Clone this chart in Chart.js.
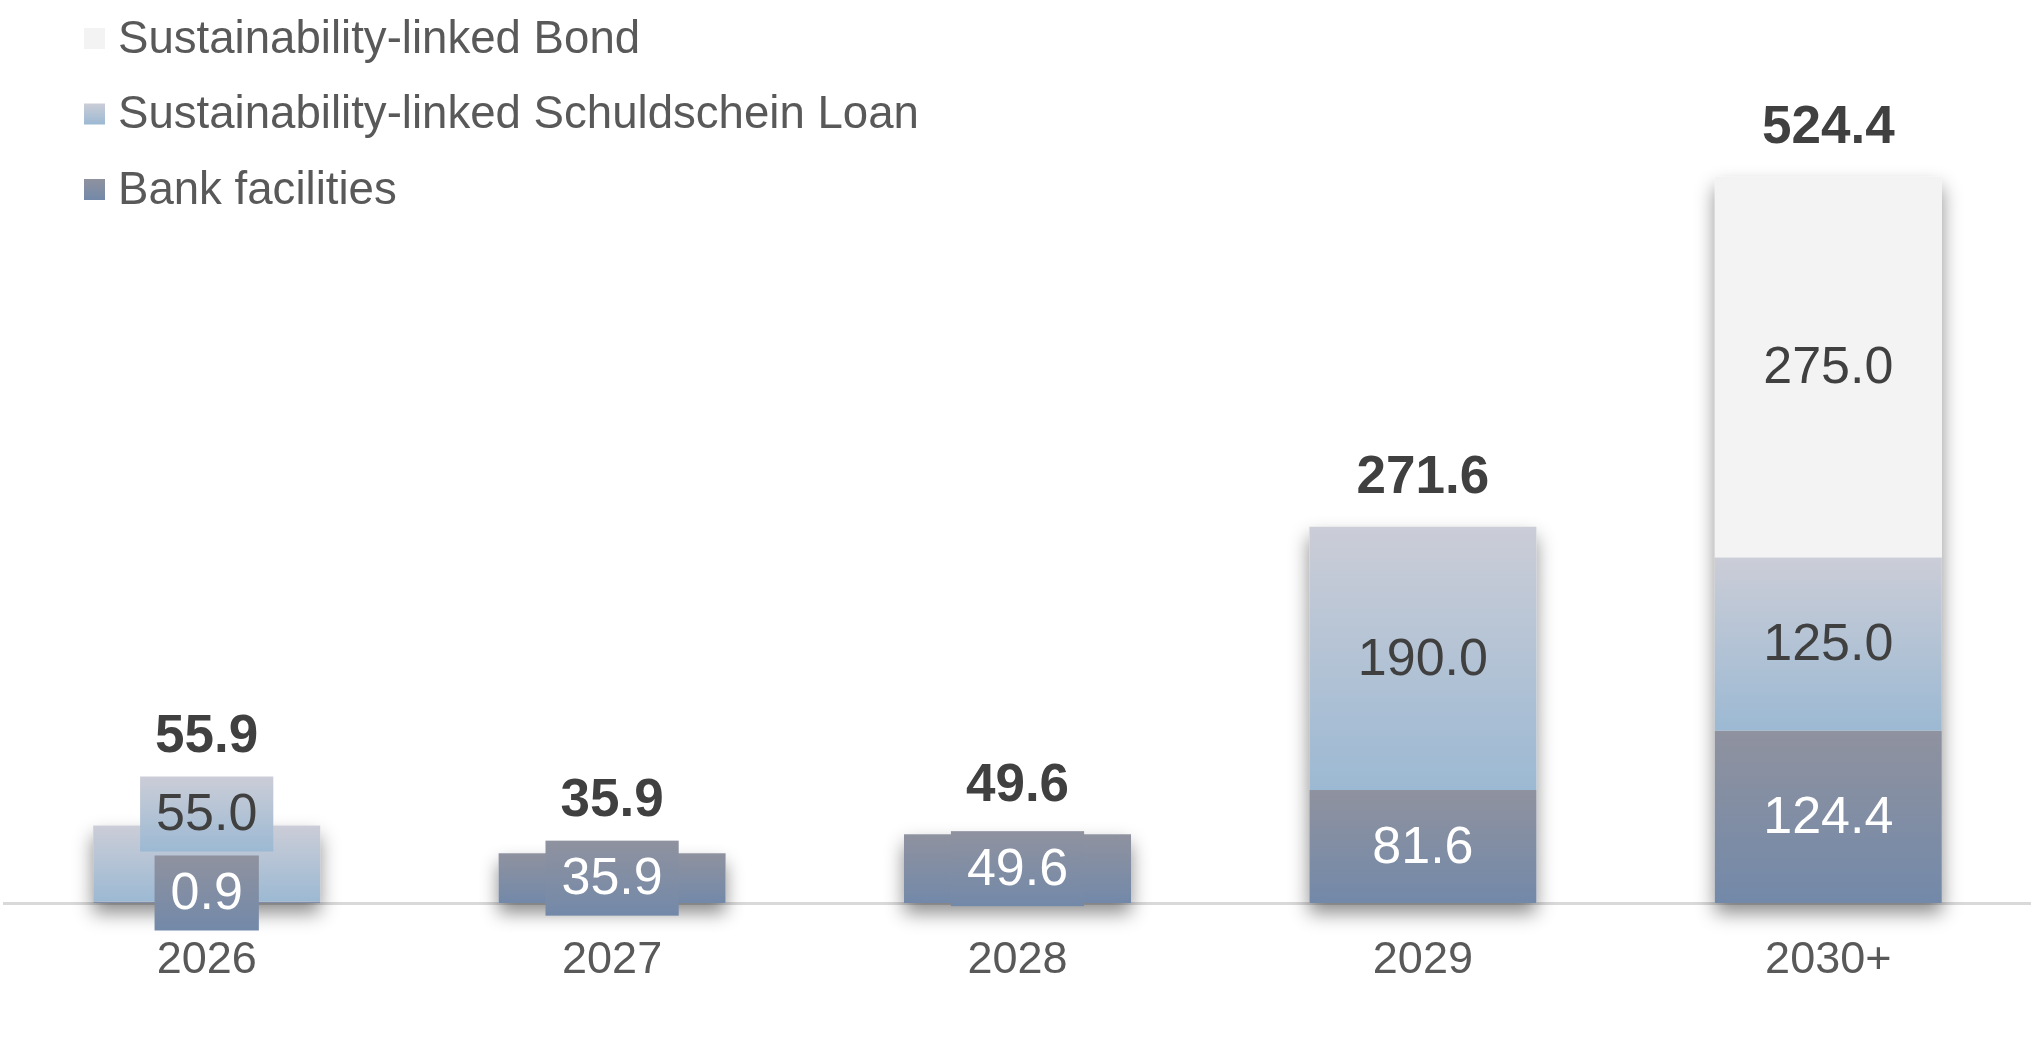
<!DOCTYPE html>
<html>
<head>
<meta charset="utf-8">
<script src="https://cdn.jsdelivr.net/npm/chart.js@4.4.1/dist/chart.umd.min.js"></script>
<style>
  html, body { margin: 0; padding: 0; background: #ffffff; }
  #wrap { width: 2031px; height: 1053px; position: relative; }
</style>
</head>
<body>
<div id="wrap"><canvas id="maturityChart"></canvas></div>
<script>
// ---- data (EUR m) ----
const categories = ["2026", "2027", "2028", "2029", "2030+"];
const bankFacilities = [0.9, 35.9, 49.6, 81.6, 124.4];
const schuldscheinLoan = [55.0, null, null, 190.0, 125.0];
const linkedBond = [null, null, null, null, 275.0];
const totals = [55.9, 35.9, 49.6, 271.6, 524.4];
const seriesNames = [
    "Bank facilities",
    "Sustainability-linked Schuldschein Loan",
    "Sustainability-linked Bond"
];

const FONT = '"Liberation Sans", Arial, sans-serif';
const BANK_STOPS = ["#8f929f", "#7389a9"];
const SSD_STOPS = ["#cbcdd7", "#9cb9d3"];
const BOND_STOPS = ["#f3f3f3", "#f3f3f3"];
const LABEL_BOX_H = 75;
const LABEL_GAP = 79;

function gradient(ctx, top, bottom, stops) {
    const g = ctx.createLinearGradient(0, top, 0, bottom);
    g.addColorStop(0, stops[0]);
    g.addColorStop(1, stops[1]);
    return g;
}

// fill every stacked segment with its own top->bottom gradient
function segmentFill(stops) {
    return (c) => {
        const chart = c.chart;
        if (!chart.chartArea || c.type !== "data") return stops[1];
        const v = c.raw;
        if (v == null) return stops[1];
        let below = 0;
        for (let d = 0; d < c.datasetIndex; d++) {
            below += chart.data.datasets[d].data[c.dataIndex] || 0;
        }
        const y = chart.scales.y;
        return gradient(chart.ctx, y.getPixelForValue(below + v), y.getPixelForValue(below), stops);
    };
}

/* ===================== SHADOW UNDER EACH STACK ===================== */
const barShadow = {
    id: "barShadow",
    beforeDatasetsDraw(chart) {
        const ctx = chart.ctx;
        const yScale = chart.scales.y;
        const meta = chart.getDatasetMeta(0);
        ctx.save();
        ctx.shadowColor = "rgba(0,0,0,0.45)";
        ctx.shadowBlur = 18;
        ctx.shadowOffsetY = 10;
        ctx.fillStyle = "#ffffff";
        meta.data.forEach((el, i) => {
            const p = el.getProps(["x", "width", "base"], true);
            const top = yScale.getPixelForValue(totals[i]);
            ctx.fillRect(p.x - p.width / 2, top, p.width, p.base - top);
        });
        ctx.restore();
    }
};

/* ===================== SEGMENT + TOTAL LABELS ===================== */
const valueLabels = {
    id: "valueLabels",
    afterDatasetsDraw(chart) {
        const ctx = chart.ctx;
        const yScale = chart.scales.y;
        ctx.save();
        ctx.textAlign = "center";
        ctx.textBaseline = "middle";
        categories.forEach((cat, i) => {
            let lastY = Infinity;
            let x = 0;
            chart.data.datasets.forEach((ds, d) => {
                const v = ds.data[i];
                if (v == null) return;
                const el = chart.getDatasetMeta(d).data[i];
                const p = el.getProps(["x", "y", "base"], true);
                x = p.x;
                const center = (p.y + p.base) / 2;
                // labels never sit lower than just above the base line, and never overlap
                const y = Math.min(center, p.base - 10, lastY - LABEL_GAP);
                lastY = y;
                const text = v.toFixed(1);
                ctx.font = "52px " + FONT;
                const w = ctx.measureText(text).width + 32;
                if (y !== center || (p.base - p.y) < LABEL_BOX_H) {
                    ctx.fillStyle = gradient(ctx, y - LABEL_BOX_H / 2, y + LABEL_BOX_H / 2, ds.stops);
                    ctx.fillRect(x - w / 2, y - LABEL_BOX_H / 2, w, LABEL_BOX_H);
                }
                ctx.fillStyle = ds.labelColor;
                ctx.fillText(text, x, y + 2);
            });
            const top = yScale.getPixelForValue(totals[i]);
            const ty = Math.min(top - 50, lastY - LABEL_GAP);
            ctx.font = "bold 53px " + FONT;
            ctx.fillStyle = "#404040";
            ctx.fillText(totals[i].toFixed(1), x, ty + 2);
        });
        ctx.restore();
    }
};

/* ===================== LEGEND (top left, one per line) ===================== */
const sideLegend = {
    id: "sideLegend",
    afterDraw(chart) {
        const ctx = chart.ctx;
        const sets = chart.data.datasets.slice().reverse();
        ctx.save();
        ctx.font = "45.6px " + FONT;
        ctx.textBaseline = "middle";
        ctx.textAlign = "left";
        sets.forEach((ds, k) => {
            const cy = 38 + k * 75.5;
            ctx.fillStyle = gradient(ctx, cy - 10, cy + 11, ds.stops);
            ctx.fillRect(84, cy - 10, 21, 21);
            ctx.fillStyle = "#595959";
            ctx.fillText(ds.label, 118, cy + 2);
        });
        ctx.restore();
    }
};

const canvas = document.getElementById("maturityChart");

new Chart(canvas, {
    type: "bar",
    data: {
        labels: categories,
        datasets: [
            {
                label: seriesNames[0],
                data: bankFacilities,
                backgroundColor: segmentFill(BANK_STOPS),
                stops: BANK_STOPS,
                labelColor: "#ffffff"
            },
            {
                label: seriesNames[1],
                data: schuldscheinLoan,
                backgroundColor: segmentFill(SSD_STOPS),
                stops: SSD_STOPS,
                labelColor: "#404040"
            },
            {
                label: seriesNames[2],
                data: linkedBond,
                backgroundColor: segmentFill(BOND_STOPS),
                stops: BOND_STOPS,
                labelColor: "#404040"
            }
        ]
    },
    options: {
        responsive: true,
        maintainAspectRatio: false,
        animation: false,
        datasets: {
            bar: {
                barPercentage: 0.8,
                categoryPercentage: 0.7,
                borderWidth: 0
            }
        },
        layout: {
            padding: { top: 72, left: 4, right: 0, bottom: 34 }
        },
        plugins: {
            legend: { display: false },
            tooltip: { enabled: false }
        },
        scales: {
            x: {
                stacked: true,
                grid: { display: false, drawTicks: false },
                border: { display: true, color: "#d9d9d9", width: 3 },
                ticks: {
                    color: "#595959",
                    padding: 31,
                    font: { family: FONT, size: 45 }
                }
            },
            y: {
                stacked: true,
                display: false,
                min: 0,
                max: 600
            }
        }
    },
    plugins: [barShadow, valueLabels, sideLegend]
});
</script>
</body>
</html>
